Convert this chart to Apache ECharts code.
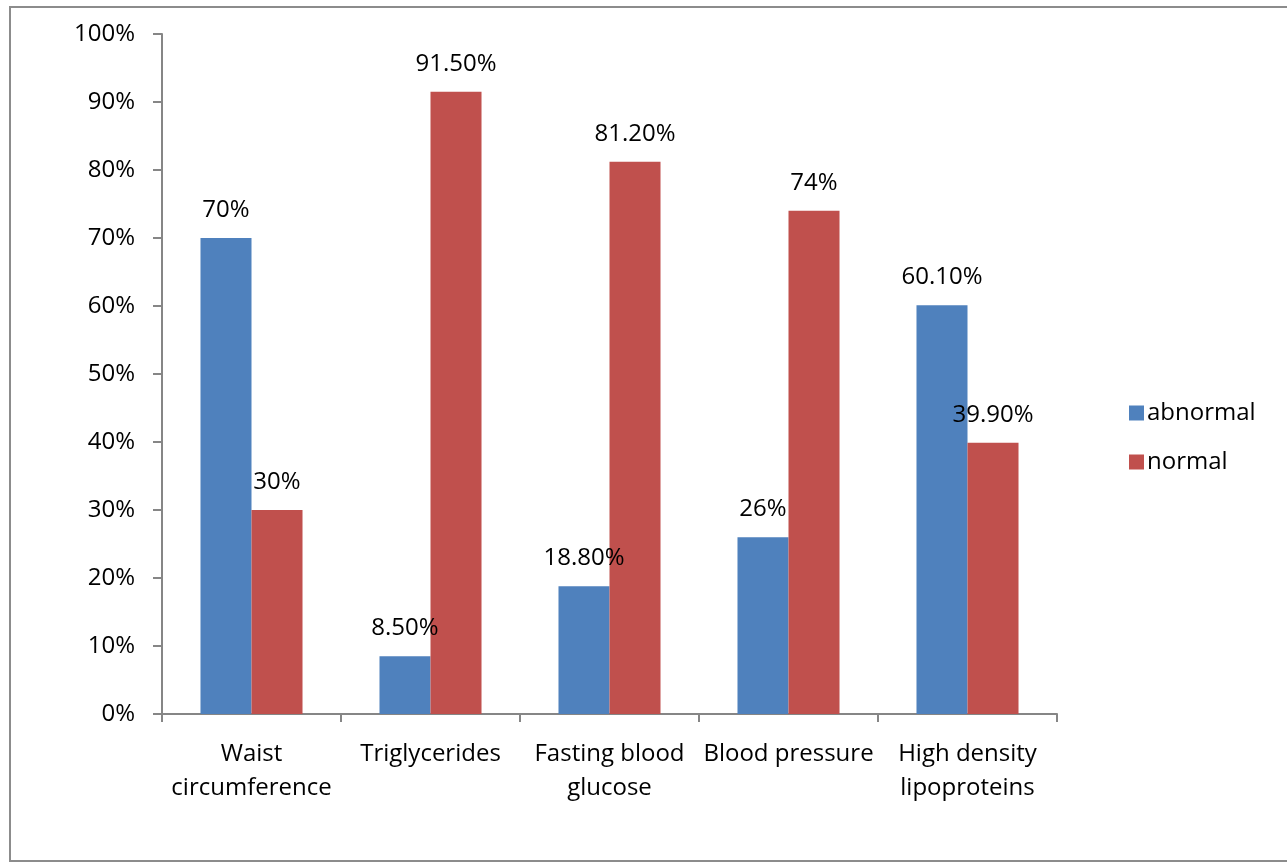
<!DOCTYPE html>
<html>
<head>
    <meta charset="utf-8">
    <title>ECharts</title>
    <script src="https://cdn.jsdelivr.net/npm/echarts@6/dist/echarts.min.js"></script>
    <style>
        html, body { margin: 0; padding: 0; background: #fff; }
    </style>
</head>
<body>
<div id="main" style="width: 1287px;height:863px;"></div>
<script type="text/javascript">
    // data ---------------------
    var categories = ['Waist\ncircumference', 'Triglycerides', 'Fasting blood\nglucose', 'Blood pressure', 'High density\nlipoproteins'];
    var abnormal = [70, 8.5, 18.8, 26, 60.1];
    var normal = [30, 91.5, 81.2, 74, 39.9];
    var yTicks = [0, 10, 20, 30, 40, 50, 60, 70, 80, 90, 100];

    var font = '"Open Sans", Lato, sans-serif';

    // Excel style: 70% / 91.50%
    function pct(v) {
        return (v % 1 === 0) ? v + '%' : v.toFixed(2) + '%';
    }

    var barLabel = {
        show: true,
        position: 'top',
        distance: 16,
        fontSize: 24,
        fontFamily: font,
        color: '#000',
        formatter: function (p) { return pct(p.value); }
    };

    var myChart = echarts.init(document.getElementById('main'));

    var option = {
        animation: false,
        backgroundColor: '#fff',
        graphic: [{
            type: 'rect',
            shape: { x: 10, y: 7, width: 1290, height: 854 },
            style: { fill: 'none', stroke: '#8c8c8c', lineWidth: 2 },
            silent: true
        }],
        grid: { left: 162, right: 230, top: 34, bottom: 149 },
        legend: {
            orient: 'vertical',
            left: 1124,
            top: 396,
            itemWidth: 15,
            itemHeight: 15,
            itemGap: 25,
            icon: 'rect',
            textStyle: { fontSize: 24, fontFamily: font, color: '#000', padding: [0, 0, 0, -2] },
            data: ['abnormal', 'normal']
        },
        xAxis: {
            type: 'category',
            data: categories,
            axisLine: { lineStyle: { color: '#868686', width: 2 } },
            axisTick: { show: true, length: 8, lineStyle: { color: '#868686', width: 2 } },
            axisLabel: { interval: 0, fontSize: 24, fontFamily: font, color: '#000', margin: 23, lineHeight: 34 }
        },
        yAxis: {
            type: 'value',
            min: 0,
            max: 100,
            interval: 10,
            splitLine: { show: false },
            axisLine: { show: true, lineStyle: { color: '#868686', width: 2 } },
            axisTick: { show: true, length: 9, lineStyle: { color: '#868686', width: 2 } },
            axisLabel: {
                fontSize: 24, fontFamily: font, color: '#000', margin: 27,
                formatter: function (v) { return yTicks.indexOf(v) >= 0 ? v + '%' : ''; }
            }
        },
        series: [
            {
                name: 'abnormal',
                type: 'bar',
                data: abnormal,
                barGap: '0%',
                barCategoryGap: '43%',
                itemStyle: { color: '#4F81BD' },
                label: barLabel
            },
            {
                name: 'normal',
                type: 'bar',
                data: normal,
                barGap: '0%',
                barCategoryGap: '43%',
                itemStyle: { color: '#C0504D' },
                label: barLabel
            }
        ]
    };
    myChart.setOption(option);
</script>
</body>
</html>
